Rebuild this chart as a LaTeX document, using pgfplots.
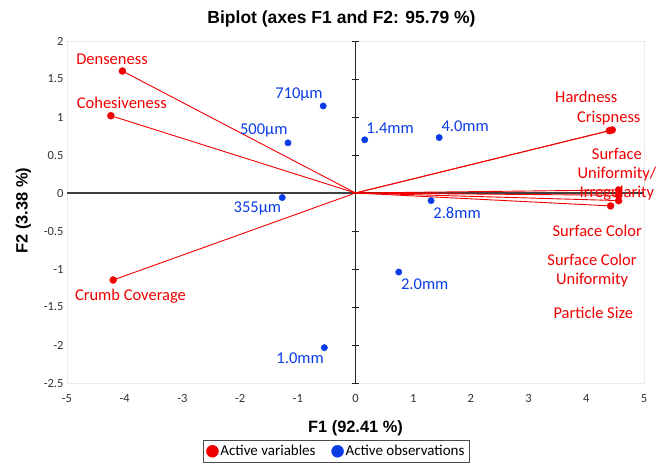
\documentclass[border=0pt]{standalone}
\usepackage{fontspec}
\setmainfont{Carlito}
\newfontfamily\headfont{Liberation Sans}
\usepackage{pgfplots}
\pgfplotsset{compat=1.18}

\definecolor{varred}{RGB}{240,0,0}
\definecolor{obsblue}{RGB}{10,60,230}
\newcommand{\lab}{\fontsize{16.5}{20}\selectfont}

\begin{document}
\begin{tikzpicture}
\begin{axis}[
    at={(67pt,81pt)}, anchor=south west,
    scale only axis, width=577pt, height=342pt,
    xmin=-5, xmax=5, ymin=-2.5, ymax=2,
    xtick={-5,-4,...,5},
    ytick={-2.5,-2,-1.5,-1,-0.5,0,0.5,1,1.5,2},
    axis line style={draw=black!8},
    major tick length=0pt,
    /pgf/number format/assume math mode=true,
    tick label style={font=\fontsize{12.5}{14}\selectfont, text=black!80},
    xticklabel style={anchor=base, yshift=-19pt},
    clip=false,
    legend style={at={(0.467,-0.167)}, anchor=north, draw=black!70,
        font=\fontsize{15}{17}\selectfont, inner sep=3pt,
        /tikz/every even column/.append style={column sep=14pt}},
    legend columns=2,
    legend image code/.code={\draw[mark size=6pt] plot coordinates {(0.25cm,0cm)};},
]
% axes through the origin
\draw[black!75, line width=1.1pt] (axis cs:-5,0) -- (axis cs:5,0);
\draw[black!85, line width=1.1pt] (axis cs:0,-2.5) -- (axis cs:0,2);
\pgfplotsinvokeforeach{-2.5,-2,-1.5,-1,-0.5,0.5,1,1.5,2}{
  \draw[black!85, line width=0.9pt] ([xshift=-3.5pt]axis cs:0,#1) -- ([xshift=3.5pt]axis cs:0,#1);
}

% variable vectors
\addplot[varred, line width=0.9pt, forget plot] coordinates {(0,0) (-4.04,1.605)};
\addplot[varred, line width=0.9pt, forget plot] coordinates {(0,0) (-4.24,1.017)};
\addplot[varred, line width=0.9pt, forget plot] coordinates {(0,0) (-4.20,-1.145)};
\addplot[varred, line width=0.9pt, forget plot] coordinates {(0,0) (4.40,0.82)};
\addplot[varred, line width=0.9pt, forget plot] coordinates {(0,0) (4.45,0.83)};
\addplot[varred, line width=0.9pt, forget plot] coordinates {(0,0) (4.56,0.04)};
\addplot[varred, line width=0.9pt, forget plot] coordinates {(0,0) (4.56,-0.03)};
\addplot[varred, line width=0.9pt, forget plot] coordinates {(0,0) (4.56,-0.10)};
\addplot[varred, line width=0.9pt, forget plot] coordinates {(0,0) (4.42,-0.17)};

% variables
\addplot[only marks, mark=*, mark size=3.5pt, color=varred] coordinates {
  (-4.04,1.605) (-4.24,1.017) (-4.20,-1.145)
  (4.40,0.82) (4.45,0.83) (4.56,0.04) (4.56,-0.03) (4.56,-0.10) (4.42,-0.17)
};
\addlegendentry{Active variables}

% observations
\addplot[only marks, mark=*, mark size=3.2pt, color=obsblue] coordinates {
  (-0.56,1.145) (-1.17,0.66) (-1.27,-0.06) (-0.54,-2.035)
  (0.16,0.70) (1.45,0.73) (1.31,-0.10) (0.75,-1.04)
};
\addlegendentry{Active observations}

% variable labels
\node[text=varred, font=\lab] at (axis cs:-4.22,1.76) {Denseness};
\node[text=varred, font=\lab] at (axis cs:-4.05,1.18) {Cohesiveness};
\node[text=varred, font=\lab] at (axis cs:-3.90,-1.36) {Crumb Coverage};
\node[text=varred, font=\lab] at (axis cs:4.00,1.27) {Hardness};
\node[text=varred, font=\lab] at (axis cs:4.39,0.99) {Crispness};
\node[text=varred, font=\lab, align=center, inner sep=0pt] at (axis cs:4.53,0.245) {Surface\\[-1pt]Uniformity/\\[-1pt]Irregularity};
\node[text=varred, font=\lab] at (axis cs:4.19,-0.50) {Surface Color};
\node[text=varred, font=\lab, align=center, inner sep=0pt] at (axis cs:4.10,-1.02) {Surface Color\\[-1pt]Uniformity};
\node[text=varred, font=\lab] at (axis cs:4.12,-1.58) {Particle Size};

% observation labels
\node[text=obsblue, font=\lab] at (axis cs:-0.98,1.30) {710µm};
\node[text=obsblue, font=\lab] at (axis cs:-1.59,0.82) {500µm};
\node[text=obsblue, font=\lab] at (axis cs:-1.70,-0.21) {355µm};
\node[text=obsblue, font=\lab] at (axis cs:-0.96,-2.17) {1.0mm};
\node[text=obsblue, font=\lab] at (axis cs:0.60,0.855) {1.4mm};
\node[text=obsblue, font=\lab] at (axis cs:1.90,0.88) {4.0mm};
\node[text=obsblue, font=\lab] at (axis cs:1.76,-0.26) {2.8mm};
\node[text=obsblue, font=\lab] at (axis cs:1.20,-1.20) {2.0mm};
\end{axis}

\node[font=\headfont\bfseries\fontsize{17.5}{20}\selectfont] at (341.5pt,445pt) {Biplot (axes F1 and F2: 95.79 \%)};
\node[font=\headfont\bfseries\fontsize{16.4}{19}\selectfont] at (355.5pt,36pt) {F1 (92.41 \%)};
\node[font=\headfont\bfseries\fontsize{16.4}{19}\selectfont, rotate=90] at (23.5pt,253.5pt) {F2 (3.38 \%)};

\pgfresetboundingbox
\path (0pt,0pt) rectangle (663pt,464pt);
\end{tikzpicture}
\end{document}
